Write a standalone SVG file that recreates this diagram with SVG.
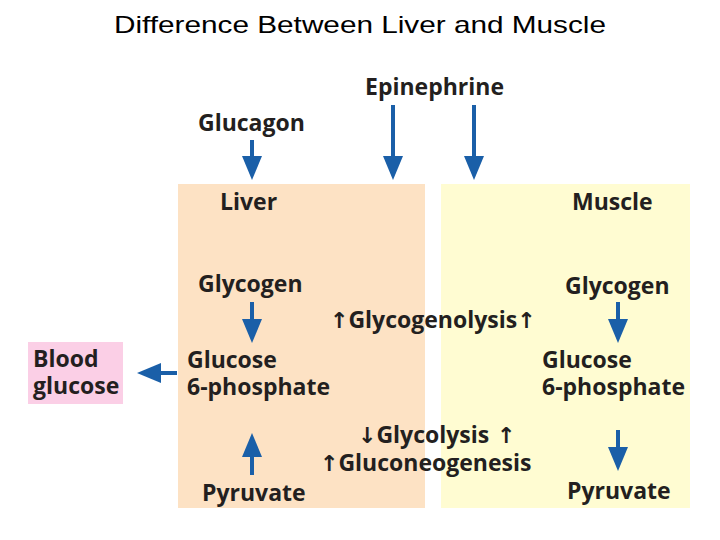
<svg xmlns="http://www.w3.org/2000/svg" width="720" height="540" viewBox="0 0 720 540">
<style>
.t{font-family:"Open Sans","Liberation Sans",sans-serif;font-weight:bold;font-size:23px;fill:#231f20}
.r{font-family:"DejaVu Sans",sans-serif;font-weight:bold;font-size:22px}
.a{stroke:#1a5fa8;stroke-width:4;fill:none;marker-end:url(#h)}
</style>
<defs><marker id="h" markerWidth="6" markerHeight="6" refX="4" refY="2.5" orient="auto" markerUnits="strokeWidth" viewBox="0 0 6 5"><path d="M0,0 L6,2.5 L0,5 Z" fill="#1a5fa8"/></marker></defs>
<rect width="720" height="540" fill="#fff"/>
<text x="360" y="33" text-anchor="middle" font-family="Liberation Sans,sans-serif" font-size="24" fill="#000" textLength="492" lengthAdjust="spacingAndGlyphs">Difference Between Liver and Muscle</text>
<g id="liver"><rect x="178" y="184" width="247" height="324" fill="#fde2c4"/><text class="t" x="220" y="210">Liver</text></g>
<g id="muscle"><rect x="441" y="184" width="249" height="324" fill="#fffcd2"/><text class="t" x="572" y="210">Muscle</text></g>
<g id="glucagon"><text class="t" x="198" y="131">Glucagon</text></g>
<g id="epinephrine"><text class="t" x="365" y="95">Epinephrine</text></g>
<g id="blood"><rect x="28" y="342" width="95" height="62" fill="#fbcfe6"/><text class="t" x="33" y="367">Blood</text><text class="t" x="33" y="394">glucose</text></g>
<g id="lglycogen"><text class="t" x="198" y="292">Glycogen</text></g>
<g id="lg6p"><text class="t" x="187" y="368">Glucose</text><text class="t" x="187" y="395">6-phosphate</text></g>
<g id="lpyr"><text class="t" x="202" y="501">Pyruvate</text></g>
<g id="mglycogen"><text class="t" x="565" y="294">Glycogen</text></g>
<g id="mg6p"><text class="t" x="542" y="368">Glucose</text><text class="t" x="542" y="395">6-phosphate</text></g>
<g id="mpyr"><text class="t" x="567" y="499">Pyruvate</text></g>
<g id="labels">
<text class="t" x="330" y="328"><tspan class="r">↑</tspan>Glycogenolysis<tspan class="r">↑</tspan></text>
<text class="t" x="358" y="443"><tspan class="r">↓</tspan>Glycolysis<tspan class="r"> ↑</tspan></text>
<text class="t" x="320" y="471"><tspan class="r">↑</tspan>Gluconeogenesis</text>
</g>
<g id="connectors">
<path class="a" d="M252,140 V172"/>
<path class="a" d="M393,105 V172"/>
<path class="a" d="M474,105 V172"/>
<path class="a" d="M252,302 V335"/>
<path class="a" d="M252,475 V441"/>
<path class="a" d="M618,302 V335"/>
<path class="a" d="M618,430 V463"/>
<path class="a" d="M177,373 H145"/>
</g>
</svg>
